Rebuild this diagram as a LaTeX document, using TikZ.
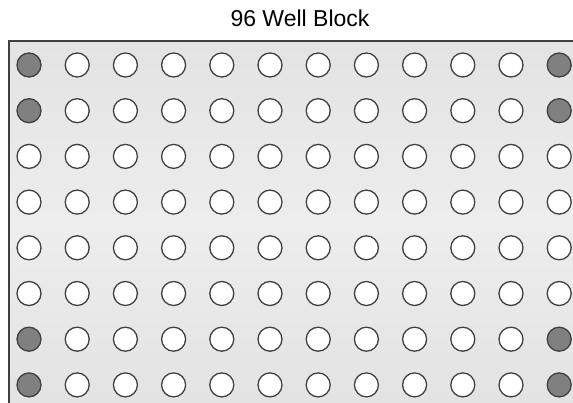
\documentclass[tikz,border=0pt]{standalone}
\usepackage{fontspec}
\setmainfont{Liberation Sans}
\definecolor{edgegray}{HTML}{404040}
\definecolor{wellgray}{HTML}{808080}
\pgfdeclareverticalshading{blockshade}{100bp}{%
  color(0bp)=(black!15); color(50bp)=(black!7); color(100bp)=(black!15)}
\tikzset{
  well/.style={circle, draw=edgegray, line width=1.3pt, minimum size=24pt, inner sep=0pt, fill=white},
  ctrlwell/.style={well, fill=wellgray},
}
\begin{document}
\begin{tikzpicture}[x=1pt,y=-1pt]
\useasboundingbox (0,0) rectangle (573,403);
\node[font=\fontsize{23}{28}\selectfont] (title) at (300,18) {96 Well Block};
\shade[shading=blockshade] (9,41) rectangle (573,403);
\draw[edgegray, line width=1.5pt] (9,403) -- (9,41) -- (573,41);
\foreach \r in {1,...,8}{
  \foreach \c in {1,...,12}{
    \pgfmathsetmacro{\xx}{29+(\c-1)*48.2}
    \pgfmathsetmacro{\yy}{65+(\r-1)*45.7}
    \pgfmathtruncatemacro{\isctrl}{((\c==1)||(\c==12))&&((\r<=2)||(\r>=7)) ? 1 : 0}
    \ifnum\isctrl=1
      \node[ctrlwell] (w-\r-\c) at (\xx,\yy) {};
    \else
      \node[well] (w-\r-\c) at (\xx,\yy) {};
    \fi
  }
}
\end{tikzpicture}
\end{document}
